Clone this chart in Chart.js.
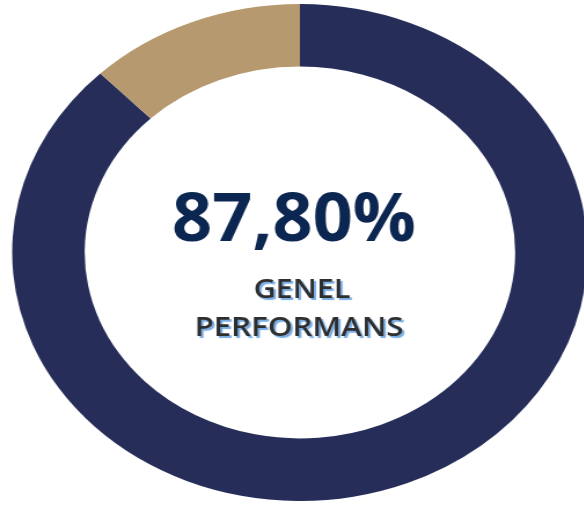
<!DOCTYPE html>
<html>
<head>
<meta charset="utf-8">
<script src="https://cdn.jsdelivr.net/npm/chart.js@4.4.1/dist/chart.umd.min.js"></script>
<style>
  html, body { margin: 0; padding: 0; background: #ffffff; overflow: hidden; width: 584px; height: 506px; }
  #wrap { position: absolute; left: 0; top: 0; width: 520px; height: 506px; transform-origin: 0 0; }
</style>
</head>
<body>
<div id="wrap"><canvas id="c"></canvas></div>
<script>
const categories = ["Gerçekleşen", "Kalan"];
const values = [87.8, 12.2];
const centerValueLabel = "87,80%";
const centerCaptionLines = ["GENEL", "PERFORMANS"];
const colors = ["#252d58", "#b6996e"];

const STRETCH = 1.158;
document.getElementById('wrap').style.transform = 'scaleX(' + STRETCH + ')';

const centerText = {
  id: 'centerText',
  afterDraw(chart) {
    const ctx = chart.ctx;
    ctx.save();
    ctx.scale(1 / STRETCH, 1);
    function fitText(txt, font, cx, baseline, targetW, fill, shadow) {
      ctx.save();
      ctx.font = font;
      const w = ctx.measureText(txt).width;
      const sx = targetW / w;
      ctx.translate(cx, baseline);
      ctx.scale(sx, 1);
      ctx.textAlign = 'center';
      ctx.textBaseline = 'alphabetic';
      if (shadow) {
        ctx.shadowColor = 'rgba(110,165,225,0.95)';
        ctx.shadowOffsetX = 2;
        ctx.shadowOffsetY = 2;
        ctx.shadowBlur = 1;
      }
      ctx.fillStyle = fill;
      ctx.fillText(txt, 0, 0);
      ctx.restore();
    }
    fitText(centerValueLabel, 'bold 66px "Open Sans"', 294, 241, 244, '#0b2650', false);
    fitText(centerCaptionLines[0], '600 27px "Open Sans"', 302, 298, 97, '#2e2e2e', true);
    fitText(centerCaptionLines[1], '600 27px "Open Sans"', 299, 336, 209, '#2e2e2e', true);
    ctx.restore();
  }
};

new Chart(document.getElementById('c'), {
  type: 'doughnut',
  data: {
    labels: categories,
    datasets: [{
      data: values,
      backgroundColor: colors,
      borderWidth: 0,
      hoverOffset: 0
    }]
  },
  options: {
    responsive: true,
    maintainAspectRatio: false,
    animation: false,
    cutout: '74.8%',
    layout: { padding: { left: 10, right: 12, top: 4, bottom: 5 } },
    plugins: { legend: { display: false }, tooltip: { enabled: false } },
    events: []
  },
  plugins: [centerText]
});
</script>
</body>
</html>
